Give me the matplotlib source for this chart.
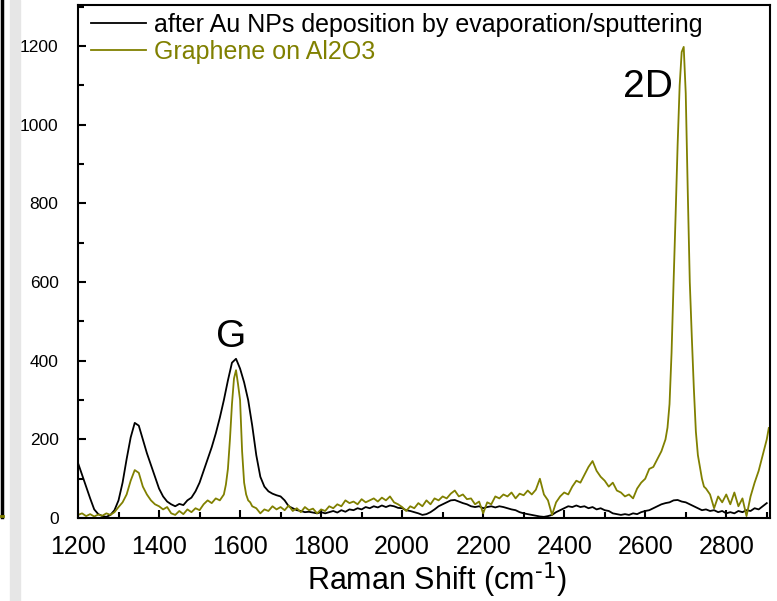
import matplotlib
matplotlib.use('Agg')
import matplotlib.pyplot as plt
from matplotlib.lines import Line2D
from matplotlib.patches import Rectangle
from matplotlib.ticker import MultipleLocator
import numpy as np

plt.rcParams['font.family'] = ['Liberation Sans', 'DejaVu Sans']

# black: after Au NPs deposition, sampled every 10 cm-1
au_shift = np.arange(1200, 2901, 10)
au_counts = [
    140, 110, 80, 50, 22, 10, 5, 3, 8, 20,
    45, 90, 150, 205, 242, 235, 200, 165, 135, 105,
    75, 55, 42, 35, 30, 36, 33, 45, 52, 68,
    90, 120, 150, 180, 215, 255, 300, 350, 395, 405,
    380, 345, 300, 235, 160, 105, 80, 68, 62, 58,
    55, 45, 30, 25, 20, 18, 15, 16, 14, 12,
    15, 12, 15, 18, 14, 20, 16, 22, 20, 25,
    22, 28, 25, 30, 27, 32, 28, 32, 30, 26,
    25, 20, 18, 15, 12, 8, 10, 15, 22, 30,
    35, 40, 45, 46, 42, 38, 35, 30, 28, 30,
    25, 28, 30, 27, 30, 28, 25, 22, 20, 15,
    12, 10, 8, 6, 4, 3, 5, 8, 15, 20,
    25, 30, 28, 32, 28, 30, 25, 28, 22, 25,
    20, 18, 12, 10, 8, 10, 8, 12, 10, 15,
    18, 20, 25, 30, 35, 38, 40, 45, 46, 42,
    40, 35, 30, 25, 20, 22, 18, 20, 15, 18,
    12, 15, 12, 18, 15, 20, 18, 25, 22, 30, 38,
]

# olive: graphene on Al2O3, finer sampling around G and 2D
gr_shift = np.concatenate([
    np.arange(1200, 1561, 10), np.arange(1565, 1626, 5),
    np.arange(1630, 2641, 10), np.arange(2645, 2751, 5),
    np.arange(2760, 2901, 10), [2905],
])
gr_counts = [
    8, 12, 5, 10, 4, 9, 6, 12, 8, 15,
    28, 40, 60, 95, 122, 115, 80, 60, 45, 35,
    30, 22, 28, 12, 8, 18, 10, 22, 15, 25,
    20, 35, 45, 38, 50, 45, 60,
    85, 125, 200, 290, 355, 376, 340, 300, 170, 90, 60, 45, 40,
    30, 25, 12, 22, 18, 30, 22, 28, 20, 32,
    18, 25, 15, 28, 20, 24, 12, 22, 18, 30,
    25, 35, 30, 45, 38, 42, 35, 48, 40, 45,
    50, 42, 52, 45, 55, 40, 35, 28, 18, 30,
    25, 38, 30, 45, 35, 50, 45, 55, 50, 62,
    70, 55, 60, 48, 50, 35, 42, 12, 40, 35,
    55, 50, 60, 55, 65, 50, 62, 58, 70, 60,
    72, 100, 60, 45, 8, 40, 55, 65, 60, 80,
    95, 90, 110, 130, 145, 120, 105, 95, 80, 90,
    70, 65, 55, 60, 50, 75, 90, 100, 125, 130,
    150, 170,
    185, 200, 230, 290, 420, 600, 770, 950, 1100, 1185,
    1198, 1080, 830, 600, 460, 330, 220, 160, 130, 100,
    80, 75,
    60, 25, 55, 40, 60, 35, 65, 30, 50, 5,
    55, 90, 120, 160, 200, 229,
]

olive = '#808000'

fig = plt.figure(figsize=(7.77, 6.01), dpi=100)
ax = fig.add_axes([0.1004, 0.138, 0.8906, 0.854])

ax.plot(au_shift, au_counts, color='black', lw=1.3,
        label='after Au NPs deposition by evaporation/sputtering')
ax.plot(gr_shift, gr_counts, color=olive, lw=1.3, label='Graphene on Al2O3')

ax.set_xlim(1200, 2908)
ax.set_ylim(0, 1305)
ax.xaxis.set_major_locator(MultipleLocator(200))
ax.xaxis.set_minor_locator(MultipleLocator(100))
ax.yaxis.set_major_locator(MultipleLocator(200))
ax.yaxis.set_minor_locator(MultipleLocator(100))
ax.tick_params(which='both', direction='in', top=False, right=False, width=1.5)
ax.tick_params(which='major', length=6)
ax.tick_params(which='minor', length=4)
ax.tick_params(axis='x', labelsize=18, pad=12)
ax.tick_params(axis='y', labelsize=12.5, pad=14)
for sp in ax.spines.values():
    sp.set_linewidth(1.5)

ax.set_xlabel('Raman Shift (cm$^{\\text{-}1}$)', fontsize=22)
ax.xaxis.set_label_coords(0.518, -0.082)

ax.text(1578, 435, 'G', fontsize=28, ha='center', va='baseline')
ax.text(2607, 1071, '2D', fontsize=28, ha='center', va='baseline')

leg = ax.legend(loc='upper left', bbox_to_anchor=(-0.006, 1.019), frameon=False,
                fontsize=18, handlelength=2.2, handletextpad=0.3,
                labelspacing=0.12, borderaxespad=0.3)
for txt, c in zip(leg.get_texts(), ['black', olive]):
    txt.set_color(c)

# bits of the neighbouring panel at the left edge
fig.add_artist(Line2D([0.002, 0.002], [0.14, 1.0], color='black', lw=2.5,
                      transform=fig.transFigure))
fig.add_artist(Line2D([0.0, 0.004], [0.142, 0.142], color=olive, lw=2,
                      transform=fig.transFigure))
fig.add_artist(Rectangle((0.013, 0.0), 0.013, 1.0, color='#e6e6e6',
                         transform=fig.transFigure, zorder=0))

fig.savefig('out.png', dpi=100)
